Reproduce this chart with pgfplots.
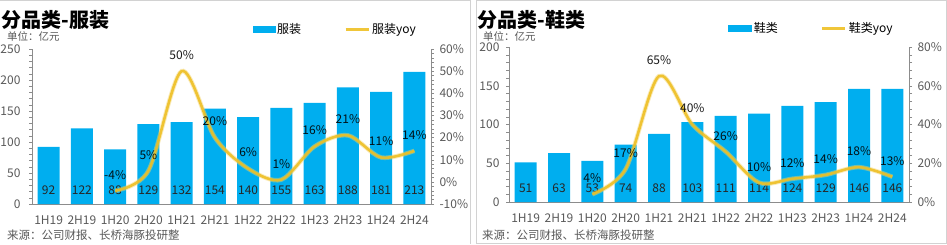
\documentclass[border=0pt]{standalone}
\usepackage{fontspec}
\setmainfont{Noto Sans CJK SC}
\usepackage{pgfplots}
\pgfplotsset{compat=1.18}
\usepackage{pgfplotstable}
\definecolor{barblue}{RGB}{0,174,239}
\definecolor{lineyel}{RGB}{238,192,36}
\definecolor{axgray}{RGB}{140,140,140}
\definecolor{txtgray}{RGB}{89,89,89}
\definecolor{framegray}{RGB}{210,210,210}

\pgfplotstableread{
x val
0 92
1 122
2 88
3 129
4 132
5 154
6 140
7 155
8 163
9 188
10 181
11 213
}\clothesbar
\pgfplotstableread{
x yoy
2 -4
3 5
4 50
5 20
6 6
7 1
8 16
9 21
10 11
11 14
}\clothesyoy
\pgfplotstableread{
x val
0 51
1 63
2 53
3 74
4 88
5 103
6 111
7 114
8 124
9 129
10 146
11 146
}\shoesbar
\pgfplotstableread{
x yoy
2 4
3 17
4 65
5 40
6 26
7 10
8 12
9 14
10 18
11 13
}\shoesyoy

\pgfplotsset{
  panel/.style={
    scale only axis, width=399pt, height=155pt,
    xmin=-0.5, xmax=11.5,
    /pgf/number format/assume math mode=true,
    tick align=outside,
    major tick length=3pt, minor tick length=3pt,
    tick label style={font=\fontsize{12}{14}\selectfont, text=txtgray},
    axis line style={-, draw=axgray},
    every tick/.style={axgray},
  },
  barax/.style={
    panel,
    axis x line*=bottom, axis y line*=left,
    xtick={0,...,11},
    xticklabels={1H19,2H19,1H20,2H20,1H21,2H21,1H22,2H22,1H23,2H23,1H24,2H24},
    x tick style={draw=none},
    xticklabel shift=5pt,
    yticklabel shift=5pt,
    minor y tick num=4,
  },
  lineax/.style={
    panel,
    axis x line=none, axis y line*=right,
    minor y tick num=4,
    yticklabel shift=2pt,
    yticklabel={\pgfmathprintnumber{\tick}\%},
    legend style={draw=none, fill=none, inner sep=0pt, legend columns=2,
      font=\fontsize{12}{14}\selectfont,
      /tikz/every even column/.append style={column sep=41pt}},
  },
  barlabel/.style={draw=none, mark=none, nodes near coords, point meta=explicit,
    nodes near coords style={anchor=center, font=\fontsize{12}{14}\selectfont, text=black!85}},
  yoylabel/.style={nodes near coords={\pgfmathprintnumber{\pgfplotspointmeta}\%},
    point meta=y,
    nodes near coords style={anchor=center, yshift=16pt, font=\fontsize{12}{14}\selectfont, text=black}},
}

\begin{document}
\begin{tikzpicture}
\useasboundingbox (0,0) rectangle (947pt,244pt);
\draw[framegray] (0pt,243.3pt) -- (470.5pt,243.3pt) -- (470.5pt,0pt);
\draw[framegray] (476.5pt,0.7pt) rectangle (946.3pt,243.3pt);

% ---------- left panel ----------
\node[anchor=west, font=\bfseries\fontsize{20}{22}\selectfont, inner sep=0pt] at (1.5pt,224pt) {分品类-服装};
\node[anchor=west, font=\fontsize{10.5}{12}\selectfont, text=txtgray, inner sep=0pt] at (7pt,207.5pt) {单位：亿元};
\node[anchor=west, font=\fontsize{11.5}{13}\selectfont, text=txtgray, inner sep=0pt] at (7pt,9pt) {来源：公司财报、长桥海豚投研整};

\begin{axis}[barax, at={(32pt,40pt)}, anchor=south west,
  ymin=0, ymax=250, ytick={0,50,...,250}]
\addplot[ybar, bar width=0.66, bar shift=0pt, fill=barblue, draw=none] table[x=x,y=val]{\clothesbar};
\addplot[barlabel] table[x=x, y expr=22.6, meta=val]{\clothesbar};
\end{axis}
\begin{axis}[lineax, at={(32pt,40pt)}, anchor=south west,
  ymin=-10, ymax=60, ytick={-10,0,...,60},
  legend style={at={(0.553,1)}, anchor=west, yshift=20pt}]
\addlegendimage{legend image code/.code={\fill[barblue] (0pt,-3pt) rectangle (22pt,3pt);}}
\addlegendentry{服装}
\addplot[smooth, line width=4.5pt, lineyel!70!white, opacity=0.45, forget plot] table[x=x,y=yoy]{\clothesyoy};
\addplot[smooth, line width=2.6pt, lineyel, opacity=0.9, yoylabel,
  legend image code/.code={\draw[line width=3pt, lineyel] (0pt,0pt) -- (23pt,0pt);}] table[x=x,y=yoy]{\clothesyoy};
\addlegendentry{服装yoy}
\end{axis}

% ---------- right panel ----------
\node[anchor=west, font=\bfseries\fontsize{20}{22}\selectfont, inner sep=0pt] at (477.5pt,224pt) {分品类-鞋类};
\node[anchor=west, font=\fontsize{10.5}{12}\selectfont, text=txtgray, inner sep=0pt] at (483pt,208pt) {单位：亿元};
\node[anchor=west, font=\fontsize{11.5}{13}\selectfont, text=txtgray, inner sep=0pt] at (482pt,9pt) {来源：公司财报、长桥海豚投研整};

\begin{axis}[barax, at={(509pt,42pt)}, anchor=south west, width=400pt,
  ymin=0, ymax=200, ytick={0,50,...,200}, yticklabel shift=3pt]
\addplot[ybar, bar width=0.66, bar shift=0pt, fill=barblue, draw=none] table[x=x,y=val]{\shoesbar};
\addplot[barlabel] table[x=x, y expr=18.1, meta=val]{\shoesbar};
\end{axis}
\begin{axis}[lineax, at={(509pt,42pt)}, anchor=south west, width=400pt,
  ymin=0, ymax=80, ytick={0,20,...,80},
  legend style={at={(0.548,1)}, anchor=west, yshift=19pt}]
\addlegendimage{legend image code/.code={\fill[barblue] (0pt,-3pt) rectangle (23pt,3pt);}}
\addlegendentry{鞋类}
\addplot[smooth, line width=4.5pt, lineyel!70!white, opacity=0.45, forget plot] table[x=x,y=yoy]{\shoesyoy};
\addplot[smooth, line width=2.6pt, lineyel, opacity=0.9, yoylabel,
  legend image code/.code={\draw[line width=3pt, lineyel] (0pt,0pt) -- (23pt,0pt);}] table[x=x,y=yoy]{\shoesyoy};
\addlegendentry{鞋类yoy}
\end{axis}
\end{tikzpicture}
\end{document}
